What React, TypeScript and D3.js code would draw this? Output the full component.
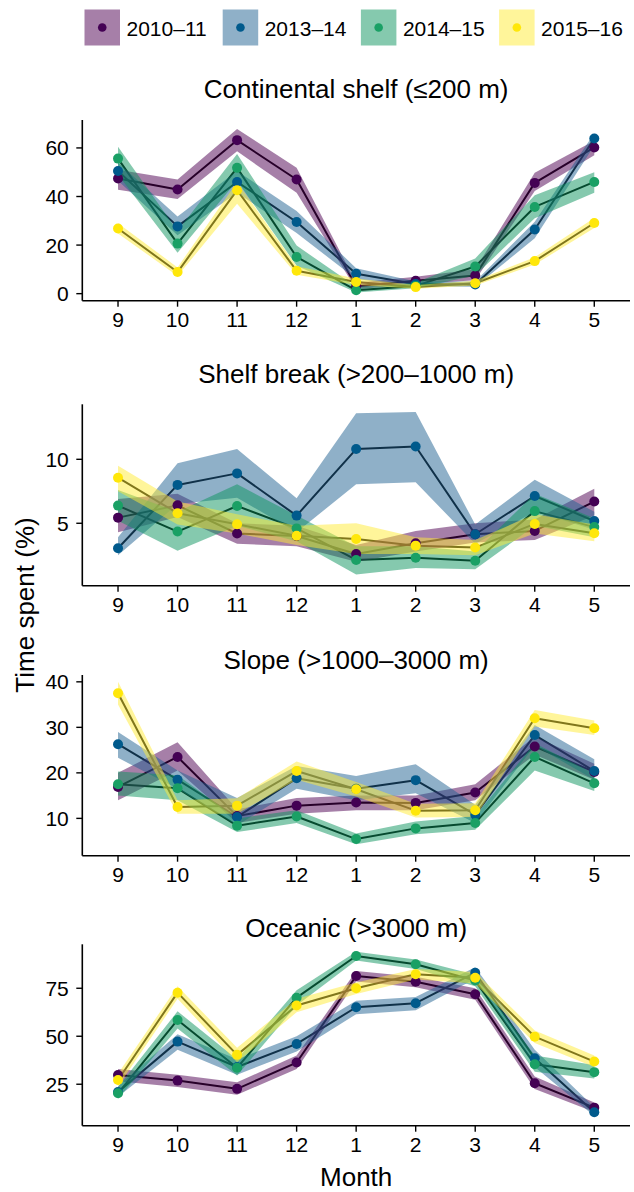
import React from "react";
import * as d3 from "d3";

// Months of the tracking season (September to May)
const MONTHS = ["9", "10", "11", "12", "1", "2", "3", "4", "5"];
const SEASONS = ["2010–11", "2013–14", "2014–15", "2015–16"];

const POINT_COLORS = ["#440154", "#005a8c", "#1aa065", "#ffe70a"];
const RIBBON_COLORS = ["#4d0051", "#1f6191", "#0b935d", "#ffeb35"];

// Continental shelf (<=200 m): estimate, lower and upper bound per season
const shelfMid = [
  [47.4, 42.9, 63.2, 47.0, 3.0, 5.3, 7.5, 45.6, 60.2],
  [50.5, 27.7, 46.0, 29.5, 8.2, 4.0, 3.8, 26.4, 63.9],
  [55.6, 20.6, 51.8, 15.1, 1.4, 3.2, 11.2, 35.7, 46.0],
  [26.8, 8.9, 42.6, 9.4, 4.8, 2.7, 4.3, 13.4, 29.1],
];
const shelfLow = [
  [42.8, 39.0, 58.6, 41.5, 1.8, 4.0, 5.5, 42.3, 57.0],
  [46.5, 24.0, 41.5, 25.0, 6.0, 3.0, 2.8, 22.8, 61.0],
  [49.0, 16.8, 46.5, 11.5, 0.5, 2.2, 7.5, 31.0, 41.5],
  [24.8, 7.3, 37.0, 7.8, 3.6, 2.0, 3.4, 12.0, 27.0],
];
const shelfHigh = [
  [51.0, 47.0, 67.8, 51.8, 4.5, 7.0, 10.0, 49.8, 63.0],
  [54.0, 31.8, 50.5, 34.0, 10.5, 5.0, 5.0, 29.6, 66.0],
  [60.5, 25.8, 57.5, 19.8, 2.8, 4.5, 14.5, 40.5, 50.0],
  [29.0, 10.8, 46.0, 11.3, 6.2, 3.6, 5.3, 15.0, 31.2],
];

// Shelf break (>200-1000 m)
const breakMid = [
  [5.44, 6.4, 4.2, 4.0, 2.6, 3.44, 4.15, 4.4, 6.7],
  [3.05, 8.0, 8.9, 5.6, 10.8, 11.0, 4.14, 7.13, 5.18],
  [6.38, 4.35, 6.35, 4.6, 2.13, 2.31, 2.07, 5.95, 4.7],
  [8.56, 5.78, 4.92, 4.03, 3.77, 3.25, 3.1, 4.95, 4.22],
];
const breakLow = [
  [4.3, 5.5, 3.4, 3.2, 2.0, 2.8, 3.5, 3.7, 5.6],
  [2.5, 6.5, 7.0, 4.3, 8.05, 8.2, 3.4, 5.9, 4.5],
  [5.2, 2.85, 4.8, 3.6, 1.0, 1.5, 1.4, 4.8, 3.9],
  [7.5, 4.9, 4.2, 3.3, 2.6, 2.6, 2.5, 4.2, 3.6],
];
const breakHigh = [
  [6.9, 7.3, 5.0, 4.8, 3.3, 4.4, 5.0, 5.3, 7.7],
  [3.9, 9.7, 10.8, 6.95, 13.6, 13.7, 4.9, 8.4, 5.9],
  [7.6, 5.9, 8.05, 5.6, 3.2, 3.2, 2.8, 7.3, 5.4],
  [9.5, 6.7, 5.7, 4.8, 5.0, 3.9, 3.7, 5.7, 4.9],
];

// Slope (>1000-3000 m)
const slopeMid = [
  [16.9, 23.5, 10.5, 12.8, 13.5, 13.4, 15.7, 25.8, 20.2],
  [26.3, 18.5, 10.3, 18.8, 16.5, 18.4, 10.8, 28.3, 20.4],
  [17.5, 16.6, 8.4, 10.4, 5.45, 7.8, 9.0, 23.5, 17.7],
  [37.5, 12.5, 12.8, 20.4, 16.4, 11.7, 11.8, 32.0, 29.8],
];
const slopeLow = [
  [14.0, 20.5, 9.0, 11.0, 11.8, 11.8, 14.0, 24.0, 18.5],
  [23.3, 16.5, 8.5, 16.5, 14.0, 15.5, 9.0, 26.0, 18.5],
  [15.0, 14.0, 7.0, 9.0, 4.3, 6.5, 7.5, 20.5, 16.0],
  [35.0, 11.0, 11.0, 18.5, 14.8, 10.2, 10.3, 30.2, 28.3],
];
const slopeHigh = [
  [20.0, 26.7, 12.0, 14.5, 15.0, 15.0, 17.5, 28.0, 22.0],
  [29.0, 20.5, 14.5, 21.5, 19.3, 21.9, 13.0, 30.5, 23.0],
  [20.3, 19.5, 10.0, 11.8, 6.7, 9.3, 10.5, 26.5, 19.8],
  [40.0, 14.0, 14.4, 22.5, 18.0, 13.2, 13.3, 33.8, 31.5],
];

// Oceanic (>3000 m)
const oceanMid = [
  [29.8, 26.9, 22.6, 36.3, 81.4, 78.4, 71.9, 25.5, 12.8],
  [21.0, 47.2, 34.0, 46.0, 65.1, 67.2, 83.1, 38.5, 10.4],
  [20.3, 58.5, 33.6, 70.1, 91.8, 87.5, 79.0, 35.4, 31.3],
  [27.2, 72.7, 40.3, 66.0, 75.0, 82.3, 80.5, 49.8, 36.8],
];
const oceanLow = [
  [26.5, 23.5, 19.5, 33.0, 78.5, 75.5, 69.0, 22.5, 10.5],
  [18.5, 43.0, 30.0, 42.0, 61.5, 63.5, 80.0, 34.0, 8.5],
  [17.5, 54.0, 29.5, 66.0, 89.5, 85.0, 76.0, 31.5, 28.0],
  [24.0, 69.5, 36.5, 62.5, 72.0, 79.5, 77.5, 46.5, 34.0],
];
const oceanHigh = [
  [33.0, 30.0, 26.0, 40.0, 84.0, 81.0, 75.0, 29.0, 15.5],
  [24.0, 51.0, 38.0, 50.0, 68.5, 70.5, 86.0, 43.0, 13.0],
  [23.5, 63.0, 38.0, 74.0, 94.0, 90.0, 82.0, 40.0, 35.0],
  [30.5, 76.0, 44.0, 69.5, 78.0, 85.0, 83.5, 53.0, 40.0],
];

const PANEL_TITLES = [
  "Continental shelf (≤200 m)",
  "Shelf break (>200–1000 m)",
  "Slope (>1000–3000 m)",
  "Oceanic (>3000 m)",
];
const Y_LIMITS = [
  [-2.9, 71.5],
  [0.12, 14.3],
  [1.8, 41.5],
  [3.4, 97.9],
];
const Y_TICKS = [
  [0, 20, 40, 60],
  [5, 10],
  [10, 20, 30, 40],
  [25, 50, 75],
];

const FONT = "'Liberation Sans', Arial, Helvetica, sans-serif";
const W = 634;
const H = 1192;
const LEFT = 82.3;
const RIGHT = 630;

// vertical placement of each panel: axis top, axis bottom, title baseline
const FRAMES = [
  { top: 120, bottom: 300.7, titleY: 97.5 },
  { top: 404.3, bottom: 585.7, titleY: 382.5 },
  { top: 675, bottom: 855.7, titleY: 669 },
  { top: 944.3, bottom: 1125.7, titleY: 937 },
];

type PanelProps = {
  idx: number;
  mid: number[][];
  low: number[][];
  high: number[][];
};

function Panel({ idx, mid, low, high }: PanelProps) {
  const f = FRAMES[idx];
  const x = d3.scalePoint<string>().domain(MONTHS).range([LEFT, RIGHT]).padding(0.6);
  const y = d3.scaleLinear().domain(Y_LIMITS[idx]).range([f.bottom, f.top]);
  const idxs = MONTHS.map((_, i) => i);

  const ribbon = (s: number) =>
    d3
      .area<number>()
      .x((i) => x(MONTHS[i]) as number)
      .y0((i) => y(low[s][i]))
      .y1((i) => y(high[s][i]))(idxs) as string;
  const line = (s: number) =>
    d3
      .line<number>()
      .x((i) => x(MONTHS[i]) as number)
      .y((i) => y(mid[s][i]))(idxs) as string;

  return (
    <g>
      <text
        x={(LEFT + RIGHT) / 2}
        y={f.titleY}
        textAnchor="middle"
        fontSize={26}
        fontFamily={FONT}
        fill="#000"
      >
        {PANEL_TITLES[idx]}
      </text>
      {/* black trend lines sit under the translucent ribbons, which tint them */}
      {SEASONS.map((s, si) => (
        <path key={"l" + s} d={line(si)} fill="none" stroke="#000" strokeWidth={2} strokeLinejoin="round" />
      ))}
      {SEASONS.map((s, si) => (
        <path key={"r" + s} d={ribbon(si)} fill={RIBBON_COLORS[si]} fillOpacity={0.5} stroke="none" />
      ))}
      {SEASONS.map((s, si) => (
        <g key={"p" + s}>
          {idxs.map((i) => (
            <circle key={i} cx={x(MONTHS[i])} cy={y(mid[si][i])} r={5} fill={POINT_COLORS[si]} />
          ))}
        </g>
      ))}
      {/* axes */}
      <line x1={LEFT} x2={LEFT} y1={f.top} y2={f.bottom} stroke="#000" strokeWidth={1.6} />
      <line x1={LEFT} x2={RIGHT} y1={f.bottom} y2={f.bottom} stroke="#000" strokeWidth={1.6} />
      {Y_TICKS[idx].map((t) => (
        <g key={"yt" + t}>
          <line x1={LEFT - 6} x2={LEFT} y1={y(t)} y2={y(t)} stroke="#000" strokeWidth={1.4} />
          <text
            x={LEFT - 13.5}
            y={y(t)}
            dy="0.36em"
            textAnchor="end"
            fontSize={21}
            fontFamily={FONT}
            fill="#000"
          >
            {t}
          </text>
        </g>
      ))}
      {MONTHS.map((m) => (
        <g key={"xt" + m}>
          <line x1={x(m)} x2={x(m)} y1={f.bottom} y2={f.bottom + 6} stroke="#000" strokeWidth={1.4} />
          <text
            x={x(m)}
            y={f.bottom + 26.5}
            textAnchor="middle"
            fontSize={21}
            fontFamily={FONT}
            fill="#000"
          >
            {m}
          </text>
        </g>
      ))}
    </g>
  );
}

function Legend() {
  const step = 138.2;
  const x0 = 84.5;
  return (
    <g>
      {SEASONS.map((s, i) => {
        const bx = x0 + i * step;
        return (
          <g key={s}>
            <rect x={bx} y={9.5} width={35.5} height={36} fill={RIBBON_COLORS[i]} fillOpacity={0.5} />
            <circle cx={bx + 17.75} cy={27.5} r={4.3} fill={POINT_COLORS[i]} />
            <text x={bx + 42} y={35.8} fontSize={21} fontFamily={FONT} fill="#000">
              {s}
            </text>
          </g>
        );
      })}
    </g>
  );
}

export default function App() {
  const mids = [shelfMid, breakMid, slopeMid, oceanMid];
  const lows = [shelfLow, breakLow, slopeLow, oceanLow];
  const highs = [shelfHigh, breakHigh, slopeHigh, oceanHigh];
  return (
    <svg
      width={W}
      height={H}
      viewBox={`0 0 ${W} ${H}`}
      style={{ position: "absolute", left: 0, top: 0, display: "block", background: "#fff" }}
    >
      <rect x={0} y={0} width={W} height={H} fill="#fff" />
      <Legend />
      {mids.map((m, i) => (
        <Panel key={i} idx={i} mid={m} low={lows[i]} high={highs[i]} />
      ))}
      <text
        transform="translate(34,605) rotate(-90)"
        textAnchor="middle"
        fontSize={26}
        fontFamily={FONT}
        fill="#000"
      >
        Time spent (%)
      </text>
      <text x={(LEFT + RIGHT) / 2} y={1186} textAnchor="middle" fontSize={26} fontFamily={FONT} fill="#000">
        Month
      </text>
    </svg>
  );
}
